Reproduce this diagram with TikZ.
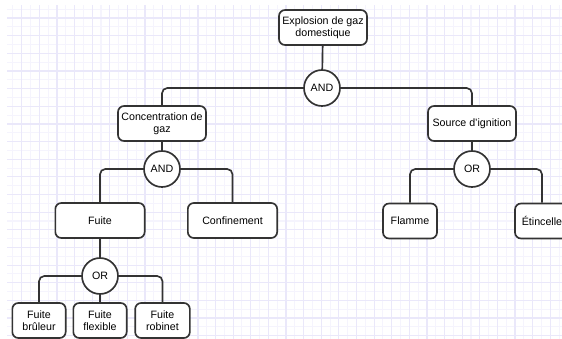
\documentclass[tikz,border=0pt]{standalone}
\usepackage{fontspec}
\setmainfont{Liberation Sans}
\definecolor{gridmajor}{HTML}{EAE8FA}
\definecolor{gridminor}{HTML}{F5F4FD}
\definecolor{inkgray}{HTML}{333333}

\begin{document}
\begin{tikzpicture}[x=0.75pt,y=-0.75pt,
    eventbox/.style={rectangle,rounded corners=4.5pt,draw=inkgray,line width=1.25pt,fill=white,
        align=center,inner sep=0pt,font=\fontsize{8}{9.3}\selectfont},
    gatenode/.style={circle,draw=inkgray,line width=1.25pt,fill=white,minimum size=27pt,
        inner sep=0pt,font=\fontsize{8}{9.3}\selectfont},
    link/.style={draw=inkgray,line width=1.25pt,rounded corners=4pt}]
        \clip (0,0) rectangle (562,339);
        \fill[white] (0,0) rectangle (562,339);

        % grid
        \foreach \i in {0,...,31}
            \draw[gridminor,line width=0.8pt] ({12.89+17.62*\i},5) -- ({12.89+17.62*\i},339);
        \foreach \j in {0,...,19}
            \draw[gridminor,line width=0.8pt] (7,{9.2+17.65*\j}) -- (562,{9.2+17.65*\j});
        \foreach \i in {0,...,31}
            \draw[gridmajor,line width=0.9pt] ({21.7+17.62*\i},5) -- ({21.7+17.62*\i},339);
        \foreach \j in {0,...,18}
            \draw[gridmajor,line width=0.9pt] (7,{18+17.65*\j}) -- (562,{18+17.65*\j});

        \begin{scope}[every node/.style={gatenode}]
            \node (andtop) at (322,88) {AND};
            \node (andgaz) at (162,169) {AND};
            \node (orign) at (472,169) {OR};
            \node (orfuite) at (100,276) {OR};
        \end{scope}

        \begin{scope}[every node/.style={eventbox}]
            \node[minimum width=66pt,minimum height=26.25pt] (expl) at (323,27.5) {Explosion de gaz\\domestique};
            \node[minimum width=66pt,minimum height=26.25pt] (conc) at (162,123.5) {Concentration de\\gaz};
            \node[minimum width=66pt,minimum height=26.25pt] (src) at (472,123.5) {Source d'ignition};
            \node[minimum width=67pt,minimum height=26.25pt] (fuite) at (100,220.5) {Fuite};
            \node[minimum width=67pt,minimum height=26.25pt] (conf) at (232.5,220.5) {Confinement};
            \node[minimum width=40.5pt,minimum height=26.25pt] (flam) at (410,221) {Flamme};
            \node[minimum width=40.5pt,minimum height=26.25pt] (etin) at (542,221) {Étincelle};
            \node[minimum width=40pt,minimum height=26.25pt] (fbrul) at (39,320.5) {Fuite\\brûleur};
            \node[minimum width=40pt,minimum height=26.25pt] (fflex) at (100,320.5) {Fuite\\flexible};
            \node[minimum width=41pt,minimum height=26.25pt] (frob) at (162.5,320.5) {Fuite\\robinet};
        \end{scope}

        \begin{scope}[every path/.style={link}]
            \draw (expl) -- (andtop);
            \draw (andtop.west) -| (conc.north);
            \draw (andtop.east) -| (src.north);
            \draw (conc) -- (andgaz);
            \draw (andgaz.west) -| (fuite.north);
            \draw (andgaz.east) -| (conf.north);
            \draw (src) -- (orign);
            \draw (orign.west) -| (flam.north);
            \draw (orign.east) -| (etin.north);
            \draw (fuite) -- (orfuite);
            \draw (orfuite.west) -| (fbrul.north);
            \draw (orfuite) -- (fflex);
            \draw (orfuite.east) -| (frob.north);
        \end{scope}
\end{tikzpicture}
\end{document}
